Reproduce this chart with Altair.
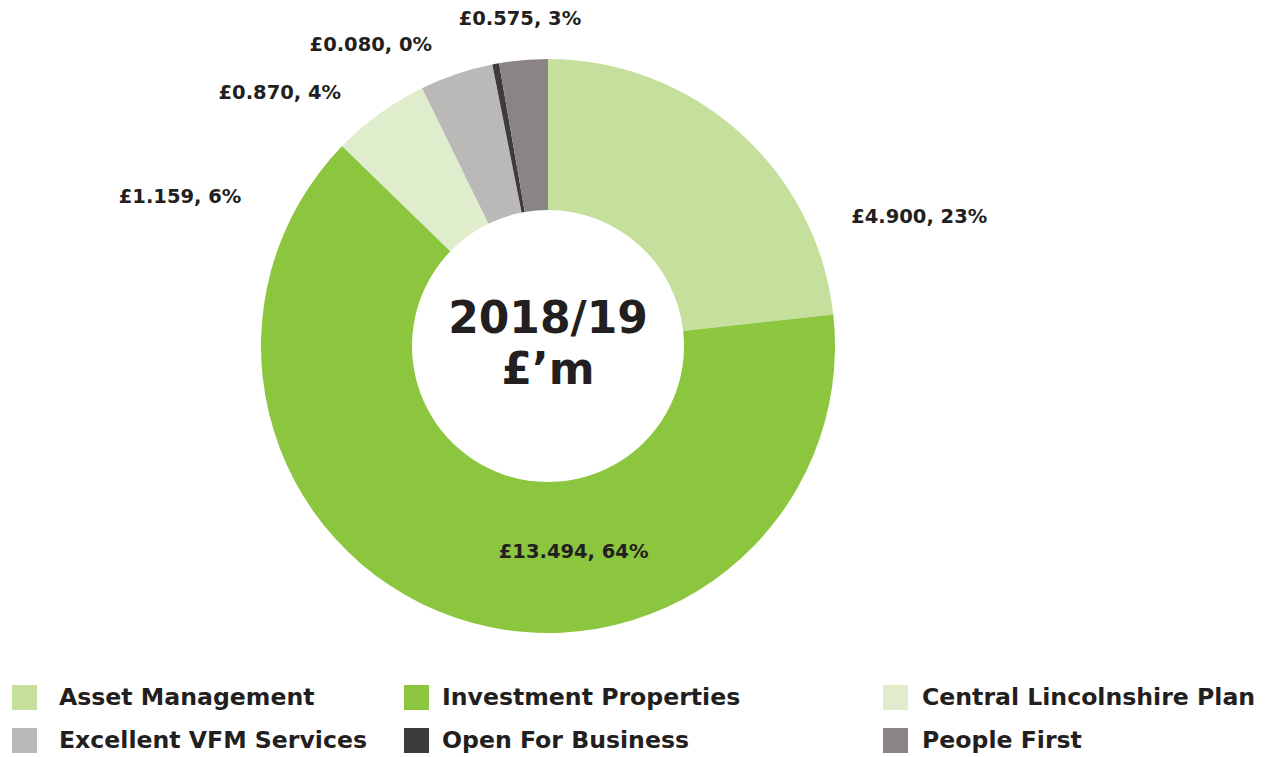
import altair as alt
import pandas as pd

categories = ["Asset Management", "Investment Properties", "Central Lincolnshire Plan",
              "Excellent VFM Services", "Open For Business", "People First"]
values = [4.900, 13.494, 1.159, 0.870, 0.080, 0.575]
percents = [23, 64, 6, 4, 0, 3]
colors = ["#c5df9c", "#8cc63f", "#dfedcd", "#bbb8b8", "#3d3b3b", "#8a8584"]
center_lines = ["2018/19", "£’m"]

# label layout (manual placement like the original): angle shift (deg) and radius (px)
label_shift = [29, -26, -32, -28, -20, 0]
label_radius = [393, 208, 397, 369, 349, 328]

CX, CY = 540, 338
R_OUT, R_IN = 287, 136
FONT = "DejaVu Sans"
TXT = "#231f20"

df = pd.DataFrame({
    "category": categories,
    "value": values,
    "pct": percents,
    "order": list(range(len(categories))),
    "shift": label_shift,
    "lr": label_radius,
})

base = alt.Chart(df).transform_window(
    cum="sum(value)", sort=[alt.SortField("order")], frame=[None, 0]
).transform_joinaggregate(
    total="sum(value)"
).transform_calculate(
    a0="2*PI*(datum.cum - datum.value)/datum.total",
    a1="2*PI*datum.cum/datum.total",
)

groups = [(0, 3, 4, 22), (1, 4, 396, 13), (2, 5, 875, 14)]
arc_layers = []
for i, j, lx, loff in groups:
    dom = [categories[i], categories[j]]
    rng = [colors[i], colors[j]]
    layer = base.transform_filter(
        alt.FieldOneOfPredicate(field="category", oneOf=dom)
    ).mark_arc(radius=R_OUT, radius2=R_IN).encode(
        theta=alt.Theta("a0:Q", scale=None),
        theta2="a1:Q",
        x=alt.value(CX),
        y=alt.value(CY),
        color=alt.Color(
            "category:N",
            scale=alt.Scale(domain=dom, range=rng),
            legend=alt.Legend(
                orient="none", legendX=lx, legendY=677, title=None,
                direction="vertical", symbolType="square", symbolSize=625,
                symbolStrokeWidth=0, symbolOpacity=1,
                labelFont=FONT, labelFontWeight="bold", labelFontSize=23.6,
                labelColor=TXT, labelOffset=loff, rowPadding=18, padding=0,
                labelLimit=500,
            ),
        ),
    )
    arc_layers.append(layer)

labels = base.transform_calculate(
    ang="2*PI*(datum.cum - datum.value/2)/datum.total + datum.shift*PI/180",
    lx=f"{CX} + datum.lr*sin(datum.ang)",
    ly=f"{CY} - datum.lr*cos(datum.ang)",
    txt="'£' + format(datum.value, '.3f') + ', ' + datum.pct + '%'",
).mark_text(
    font=FONT, fontWeight="bold", fontSize=19.5, color=TXT,
    align="center", baseline="middle",
).encode(
    x=alt.X("lx:Q", scale=None),
    y=alt.Y("ly:Q", scale=None),
    text="txt:N",
)

center = alt.Chart(pd.DataFrame({"t": [0]})).mark_text(
    font=FONT, fontWeight="bold", fontSize=44, color=TXT,
    align="center", baseline="middle", lineHeight=51,
).encode(
    x=alt.value(CX), y=alt.value(312), text=alt.value(center_lines),
)

chart = alt.layer(*arc_layers, labels, center).resolve_scale(
    color="independent"
).properties(
    width=1255, height=749, padding=0, autosize=alt.AutoSizeParams(type="none"),
    background="white",
).configure_view(stroke=None)

chart.save("out.html", embed_options={"renderer": "svg", "actions": False})
